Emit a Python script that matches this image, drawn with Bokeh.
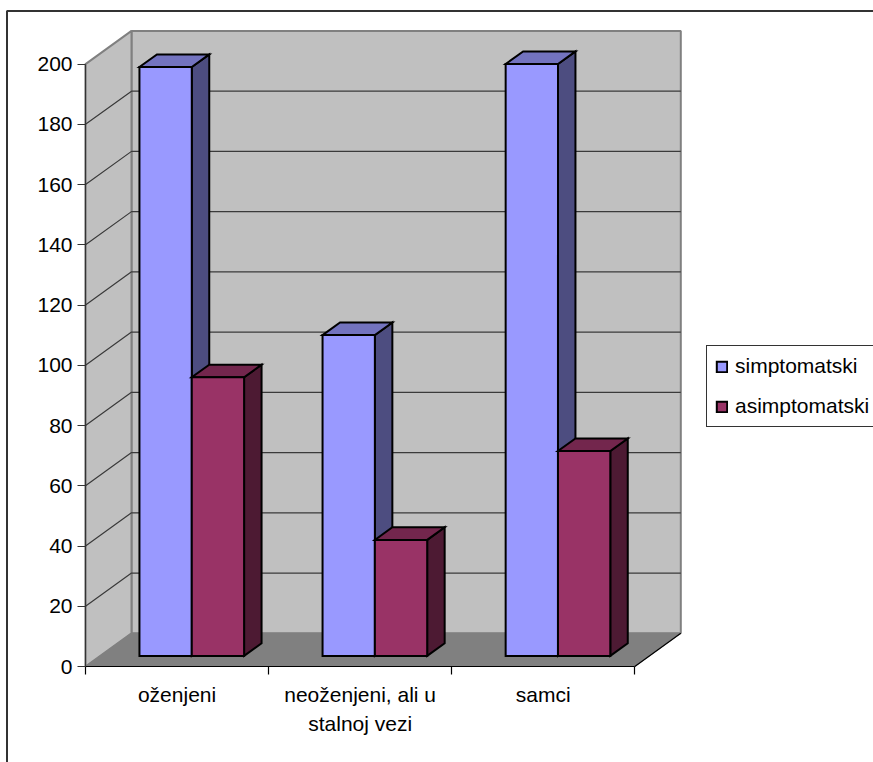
from bokeh.plotting import figure
from bokeh.embed import file_html
from bokeh.resources import INLINE
from bokeh.models import LinearAxis, FixedTicker, Range1d, Legend, LegendItem

categories = ["oženjeni", "neoženjeni, ali u\nstalnoj vezi", "samci"]
series_names = ["simptomatski", "asimptomatski"]
simptomatski = [195.5, 106.5, 196.5]
asimptomatski = [92.5, 38.5, 68]
y_ticks = [0, 20, 40, 60, 80, 100, 120, 140, 160, 180, 200]

FONT = "Liberation Sans"
FS = "21px"
W, H = 873, 762
UX, UY = 183.1, 3.012      # px per category, px per value
X0, Y0 = 85, 666           # screen position of the origin
DX, DY = 46 / UX, 33.2 / UY  # full depth of the chart box in data units
BAR_W = 1 / 3.5
GAP = (1 - 2 * BAR_W) / 2
D_FRONT, D_BACK = 0.32, 0.70

def px(x):
    return (x - X0) / UX

def py(y):
    return (Y0 - y) / UY

p = figure(width=W, height=H, output_backend="svg", toolbar_location=None,
           x_axis_type=None, y_axis_type=None,
           x_range=Range1d(px(0), px(W)), y_range=Range1d(py(H), py(0)),
           min_border=0, background_fill_color="white", border_fill_color="white")
p.outline_line_color = None
p.grid.visible = False

n = len(categories)
top = y_ticks[-1]

# outer chart frame (only top and left edges are in view)
p.line([px(6.5), px(6.5), px(W)], [py(H), py(10.5), py(10.5)], line_color="#333333", line_width=2)

# walls and floor
wall = "#C0C0C0"
edge = "#808080"
p.patch([DX, n + DX, n + DX, DX], [DY, DY, top + DY, top + DY], fill_color=wall, line_color=edge, line_width=2)
p.patch([0, DX, DX, 0], [0, DY, top + DY, top], fill_color=wall, line_color=edge, line_width=2)
p.patch([0, n, n + DX, DX], [0, 0, DY, DY], fill_color=edge, line_color=edge, line_width=1)

# gridlines
grid = [v for v in y_ticks[1:-1]]
p.multi_line([[0, DX, n + DX] for _ in grid], [[v, v + DY, v + DY] for v in grid],
             line_color="#3A3A3A", line_width=1.2)
p.line([n, n + DX], [0, DY], line_color="black", line_width=1.2)

def bars(values, idx, front, tp, side):
    lefts = [i + GAP + idx * BAR_W + D_FRONT * DX for i in range(n)]
    rights = [l + BAR_W for l in lefts]
    base = D_FRONT * DY
    tops = [base + v for v in values]
    dx = (D_BACK - D_FRONT) * DX
    dy = (D_BACK - D_FRONT) * DY
    style = dict(line_color="black", line_width=2, line_join="miter")
    p.patches([[r, r + dx, r + dx, r] for r in rights],
              [[base, base + dy, t + dy, t] for t in tops], fill_color=side, **style)
    p.patches([[l, r, r + dx, l + dx] for l, r in zip(lefts, rights)],
              [[t, t, t + dy, t + dy] for t in tops], fill_color=tp, **style)
    return p.quad(left=lefts, right=rights, bottom=[base] * n, top=tops, fill_color=front, **style)

r1 = bars(simptomatski, 0, "#9999FF", "#7373BF", "#4D4D80")
r2 = bars(asimptomatski, 1, "#993366", "#73264D", "#4D1A33")

# axes
y_axis = LinearAxis(fixed_location=0, ticker=FixedTicker(ticks=y_ticks), bounds=(0, top),
                    major_tick_in=0, major_tick_out=8, minor_tick_out=0, minor_tick_in=0,
                    major_label_standoff=5, major_label_text_font=FONT, major_label_text_font_size=FS,
                    major_label_text_color="black", axis_line_color="#333333", major_tick_line_color="#333333",
                    axis_line_width=1.2, major_tick_line_width=1.2)
p.add_layout(y_axis, "left")

x_ticks = FixedTicker(ticks=list(range(n + 1)))
x_axis = LinearAxis(fixed_location=0, ticker=x_ticks, bounds=(0, n),
                    major_tick_in=0, major_tick_out=8, minor_tick_out=0, minor_tick_in=0,
                    major_label_text_font_size="0px", major_label_text_color=None,
                    axis_line_color="black", major_tick_line_color="black",
                    axis_line_width=1.2, major_tick_line_width=1.2)
p.add_layout(x_axis, "below")

centers = [i + 0.5 for i in range(n)]
label_axis = LinearAxis(fixed_location=0, ticker=FixedTicker(ticks=centers),
                        major_label_overrides={c: t for c, t in zip(centers, categories)},
                        major_tick_in=0, major_tick_out=0, minor_tick_out=0, minor_tick_in=0,
                        axis_line_color=None, major_tick_line_color=None,
                        major_label_standoff=16, major_label_text_font=FONT, major_label_text_font_size=FS,
                        major_label_text_color="black", major_label_text_line_height=1.3)
p.add_layout(label_axis, "below")

legend = Legend(items=[LegendItem(label=series_names[0], renderers=[r1]),
                       LegendItem(label=series_names[1], renderers=[r2])],
                location=(706, H - 427), margin=0, padding=8, spacing=16,
                glyph_width=13, glyph_height=13, label_height=22, label_standoff=7,
                label_text_font=FONT, label_text_font_size=FS, label_text_color="black",
                border_line_color="#333333", border_line_width=1, border_line_alpha=1,
                background_fill_color="white", background_fill_alpha=1)
p.add_layout(legend, "center")

open("out.html", "w").write(file_html(p, INLINE))
